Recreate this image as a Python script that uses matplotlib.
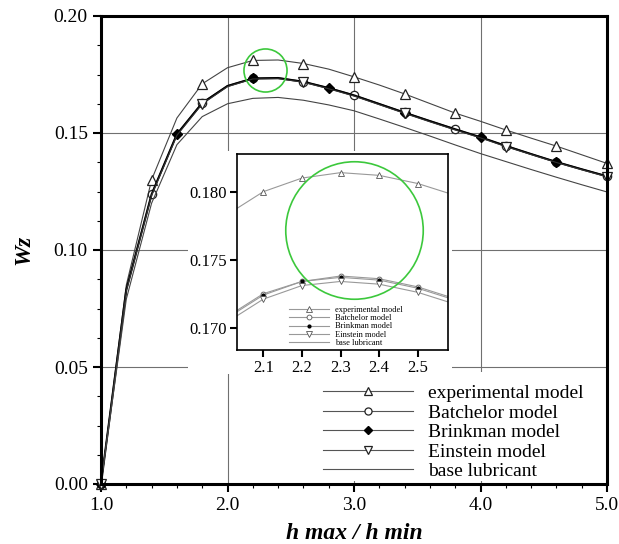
import matplotlib
matplotlib.use("Agg")
import matplotlib.pyplot as plt
from matplotlib.patches import Rectangle
from matplotlib.ticker import MultipleLocator, AutoMinorLocator, FormatStrFormatter

plt.rcParams['font.family'] = ['Liberation Serif', 'DejaVu Serif']

# main curves, step 0.2 in h max / h min
ratio = [1.0, 1.2, 1.4, 1.6, 1.8, 2.0, 2.2, 2.4, 2.6, 2.8, 3.0,
         3.2, 3.4, 3.6, 3.8, 4.0, 4.2, 4.4, 4.6, 4.8, 5.0]
wz_experimental = [0.0, 0.085, 0.130, 0.1564, 0.1710, 0.1779, 0.1810, 0.1812, 0.1797, 0.1773, 0.1740,
                   0.1705, 0.1667, 0.1626, 0.1585, 0.1550, 0.1513, 0.1478, 0.1444, 0.1407, 0.1370]
wz_batchelor = [0.0, 0.083, 0.124, 0.1496, 0.1630, 0.1702, 0.1734, 0.1736, 0.1720, 0.1693, 0.1662,
                0.1625, 0.1588, 0.1552, 0.1517, 0.1482, 0.1446, 0.1411, 0.1377, 0.1346, 0.1316]
wz_brinkman = [0.0, 0.083, 0.1238, 0.1495, 0.1628, 0.1701, 0.1733, 0.1735, 0.1719, 0.1692, 0.1661,
               0.1624, 0.1587, 0.1551, 0.1516, 0.1482, 0.1445, 0.1410, 0.1376, 0.1345, 0.1315]
wz_einstein = [0.0, 0.0825, 0.1233, 0.1490, 0.1624, 0.1698, 0.1731, 0.1732, 0.1717, 0.1689, 0.1658,
               0.1621, 0.1584, 0.1548, 0.1513, 0.1479, 0.1442, 0.1408, 0.1374, 0.1343, 0.1313]
wz_base = [0.0, 0.079, 0.120, 0.1450, 0.1570, 0.1625, 0.1648, 0.1652, 0.1640, 0.1620, 0.1595,
           0.1560, 0.1524, 0.1487, 0.1449, 0.1412, 0.1378, 0.1344, 0.1311, 0.1279, 0.1248]

# zoomed region around the peak, step 0.1
ratio_in = [2.0, 2.1, 2.2, 2.3, 2.4, 2.5, 2.6]
exp_in = [0.1782, 0.1800, 0.1810, 0.1814, 0.1812, 0.1806, 0.1797]
bat_in = [0.1707, 0.1725, 0.1734, 0.1738, 0.1736, 0.1730, 0.1721]
brk_in = [0.1706, 0.1724, 0.1734, 0.1737, 0.1735, 0.1729, 0.1720]
ein_in = [0.1703, 0.1721, 0.1731, 0.1734, 0.1732, 0.1726, 0.1717]
base_in = [0.1625, 0.1640, 0.1648, 0.1652, 0.1652, 0.1648, 0.1640]

labels = ['experimental model', 'Batchelor model', 'Brinkman model', 'Einstein model', 'base lubricant']

# highlight circles (centre x, centre y)
hl_main = (2.30, 0.1769)
hl_inset = (2.336, 0.17718)
green = '#3cc83c'

fig = plt.figure(figsize=(6.19, 5.44), dpi=100)
ax = fig.add_axes([101 / 619, 60 / 544, 506 / 619, 468 / 544])

ax.plot(ratio, wz_experimental, color='#444444', lw=0.8, marker='^', ms=7, mfc='white',
        mec='#222222', mew=0.9, markevery=2, clip_on=False, label=labels[0])
ax.plot(ratio, wz_batchelor, color='#333333', lw=0.8, marker='o', ms=6, mfc='white',
        mec='#222222', mew=0.9, markevery=2, clip_on=False, label=labels[1])
ax.plot(ratio, wz_brinkman, color='black', lw=1.5, marker='D', ms=5, mfc='black',
        mec='black', markevery=3, clip_on=False, label=labels[2])
ax.plot(ratio, wz_einstein, color='#333333', lw=0.8, marker='v', ms=7, mfc='white',
        mec='#222222', mew=0.9, markevery=4, clip_on=False, label=labels[3])
ax.plot(ratio, wz_base, color='#444444', lw=0.8, label=labels[4])
ax.plot([hl_main[0]], [hl_main[1]], marker='o', ms=31, mfc='none', mec=green, mew=1.2)

ax.set_xlim(1.0, 5.0)
ax.set_ylim(0.0, 0.20)
ax.xaxis.set_major_locator(MultipleLocator(1.0))
ax.xaxis.set_minor_locator(AutoMinorLocator(5))
ax.yaxis.set_major_locator(MultipleLocator(0.05))
ax.yaxis.set_minor_locator(AutoMinorLocator(4))
ax.xaxis.set_major_formatter(FormatStrFormatter('%.1f'))
ax.yaxis.set_major_formatter(FormatStrFormatter('%.2f'))
ax.tick_params(which='major', direction='out', length=6, width=1.5, labelsize=14)
ax.tick_params(which='minor', direction='out', length=3, width=0.8)
for s in ax.spines.values():
    s.set_linewidth(2.2)
ax.set_axisbelow(True)
ax.grid(True, which='major', color='#707070', lw=0.8)

# white areas behind the inset and the legend, which hide the grid there
ax.add_patch(Rectangle((0.172, 0.235), 0.522, 0.477, transform=ax.transAxes,
                       facecolor='white', edgecolor='none', zorder=1))
ax.add_patch(Rectangle((0.40, 0.006), 0.592, 0.234, transform=ax.transAxes,
                       facecolor='white', edgecolor='none', zorder=1))

ax.set_xlabel('h max / h min', fontsize=17, fontweight='bold', style='italic', labelpad=6)
ax.set_ylabel('Wz', fontsize=17, fontweight='bold', style='italic', labelpad=14)

leg = ax.legend(loc='lower left', bbox_to_anchor=(0.439, 0.008), frameon=False, fontsize=14,
                handlelength=4.6, handletextpad=0.8, labelspacing=0.1, borderpad=0,
                borderaxespad=0, markerscale=0.85)
for h in leg.legend_handles:
    h.set_color('#555555')
    h.set_linewidth(0.8)

# inset
axi = fig.add_axes([236.7 / 619, 194 / 544, 211.6 / 619, 196 / 544])
axi.plot(ratio_in, exp_in, color='#999999', lw=0.8, marker='^', ms=4, mfc='white',
         mec='#555555', mew=0.6, markevery=slice(1, 6), label=labels[0])
axi.plot(ratio_in, bat_in, color='#999999', lw=0.8, marker='o', ms=3.5, mfc='white',
         mec='#555555', mew=0.6, markevery=slice(1, 6), label=labels[1])
axi.plot(ratio_in, brk_in, color='#999999', lw=0.8, marker='o', ms=2, mfc='black',
         mec='black', markevery=slice(1, 6), label=labels[2])
axi.plot(ratio_in, ein_in, color='#999999', lw=0.8, marker='v', ms=4, mfc='white',
         mec='#555555', mew=0.6, markevery=slice(1, 6), label=labels[3])
axi.plot(ratio_in, base_in, color='#999999', lw=0.8, label=labels[4])
axi.plot([hl_inset[0]], [hl_inset[1]], marker='o', ms=99, mfc='none', mec=green, mew=1.2)

axi.set_xlim(2.031, 2.579)
axi.set_ylim(0.16836, 0.18277)
axi.xaxis.set_major_locator(MultipleLocator(0.1))
axi.yaxis.set_major_locator(MultipleLocator(0.005))
axi.xaxis.set_major_formatter(FormatStrFormatter('%.1f'))
axi.yaxis.set_major_formatter(FormatStrFormatter('%.3f'))
axi.tick_params(which='major', direction='out', length=5, width=1.5, labelsize=12, pad=2)
for s in axi.spines.values():
    s.set_linewidth(1.2)

legi = axi.legend(loc='lower left', bbox_to_anchor=(0.249, 0.014), frameon=False, fontsize=6,
                  handlelength=4.7, handletextpad=0.8, labelspacing=0.05, borderpad=0,
                  borderaxespad=0)

fig.savefig('out.png', dpi=100)
